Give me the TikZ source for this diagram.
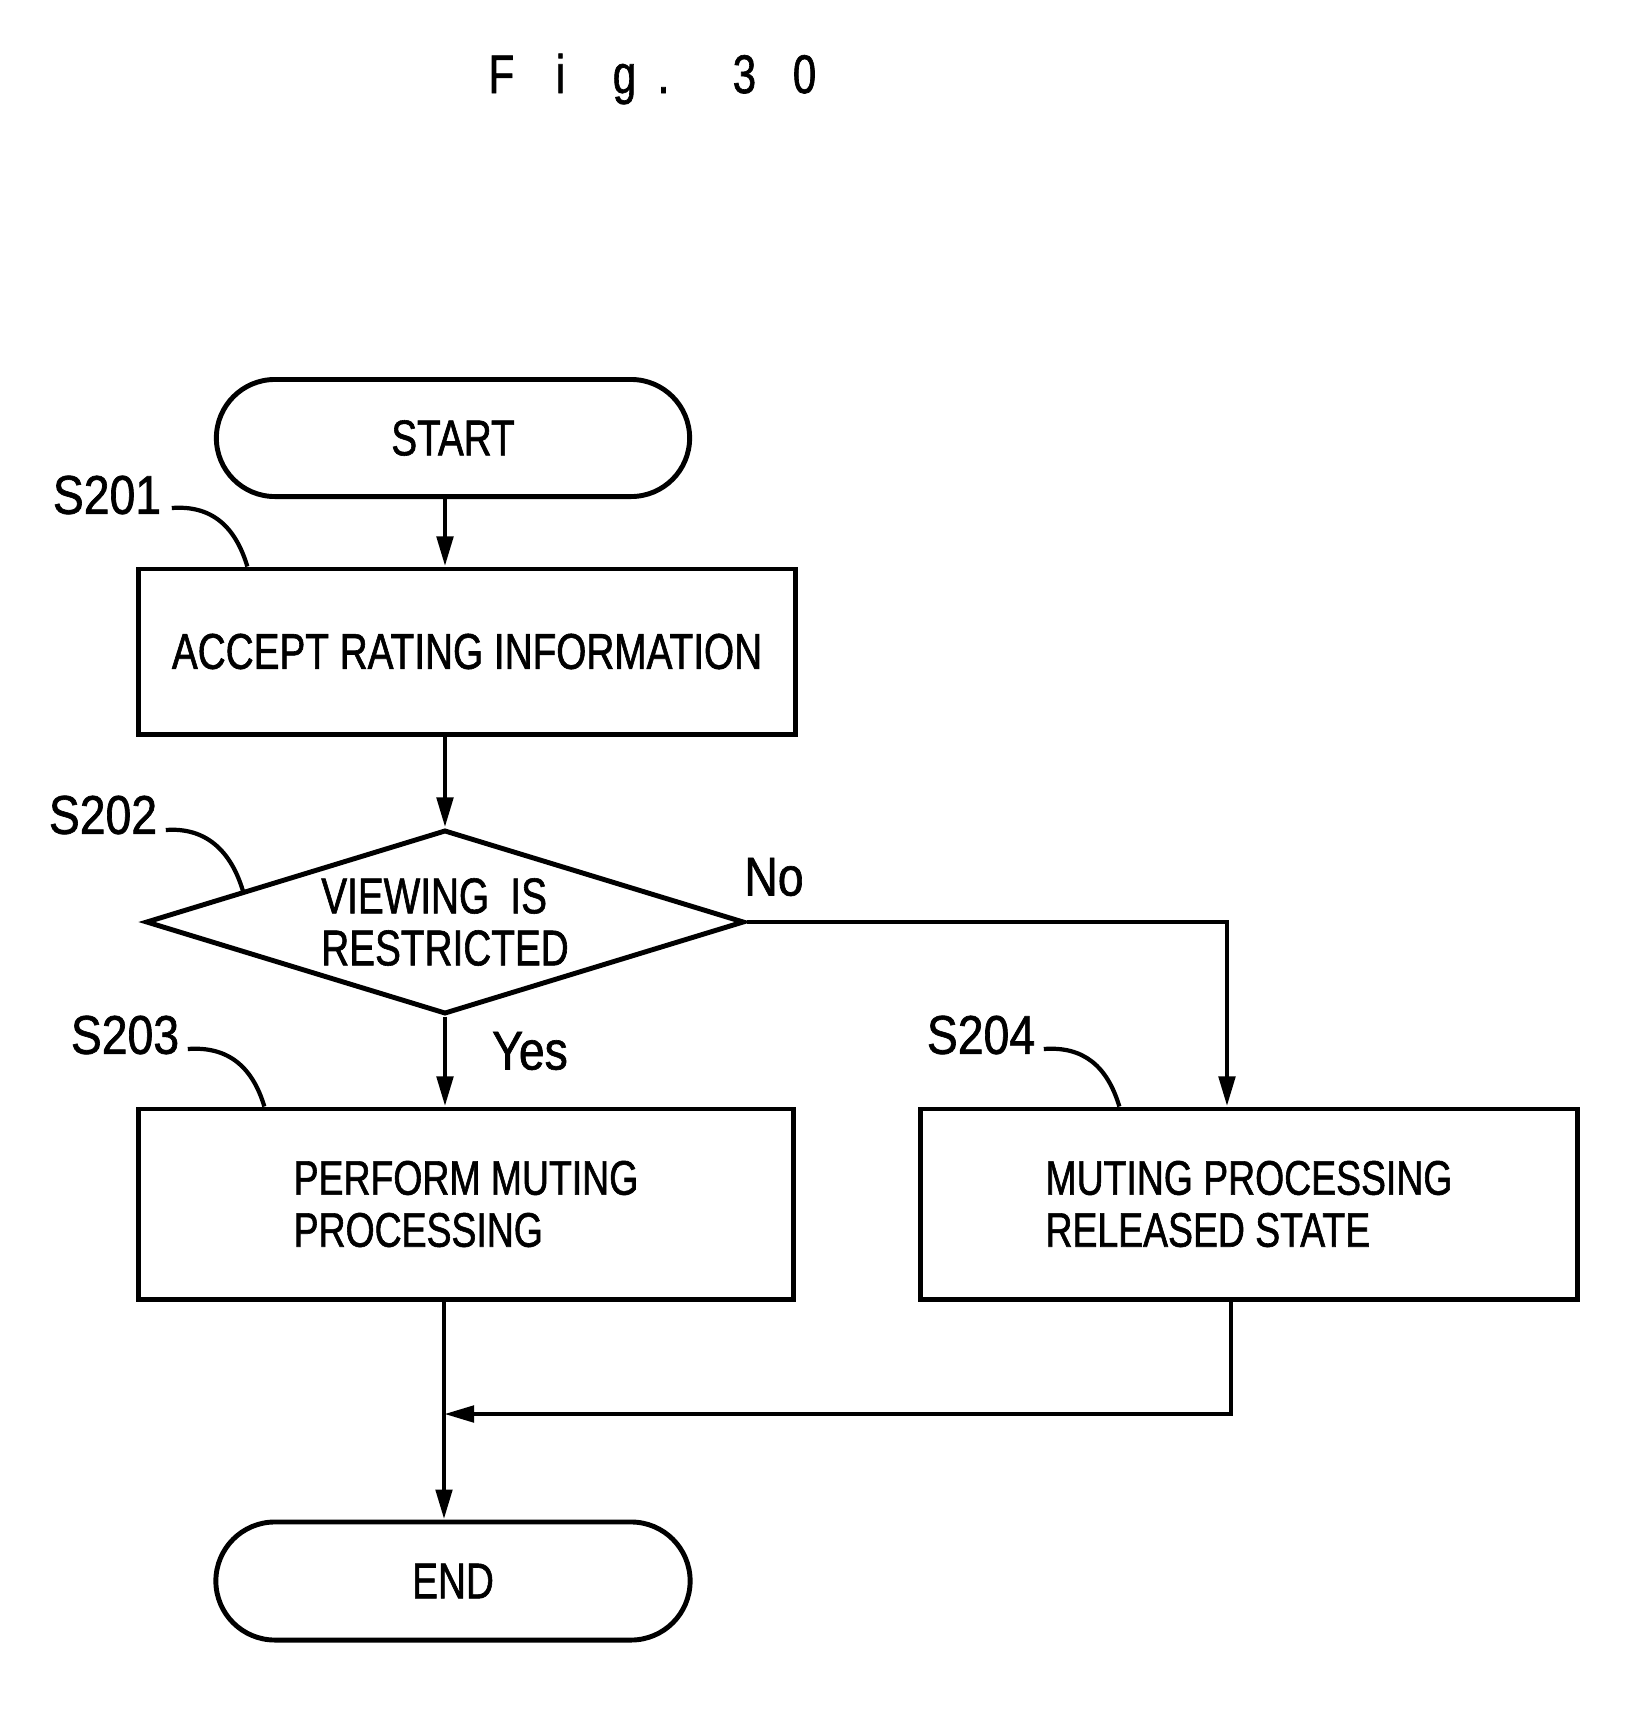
\documentclass[tikz,border=0pt]{standalone}
\usepackage{fontspec}
\setmainfont[FakeStretch=0.77,FakeBold=1.2]{Liberation Sans}
\newfontfamily\lblfont[FakeStretch=0.85,FakeBold=1.2]{Liberation Sans}
\usetikzlibrary{shapes.geometric,shapes.misc,arrows.meta,calc}
\tikzset{
  base/.style={draw, line width=1.4pt, font=\fontsize{14.3}{14.8}\selectfont, inner sep=0pt},
  terminal/.style={base, rounded rectangle, minimum width=4.73cm, minimum height=1.17cm},
  process/.style={base, rectangle, minimum height=1.9cm, align=left},
  decision/.style={base, diamond, aspect=3.25, minimum width=5.98cm, minimum height=1.84cm, align=left},
  arr/.style={line width=1.4pt, -{Triangle[length=3mm,width=1.6mm]}},
  lead/.style={line width=1.2pt},
  steplabel/.style={font=\lblfont\fontsize{15.5}{16}\selectfont, inner sep=0pt},
  branch/.style={font=\lblfont\fontsize{15.5}{16}\selectfont, inner sep=0pt}
}
\begin{document}
\begin{tikzpicture}[x=0.01cm,y=-0.01cm]
\useasboundingbox[fill=white] (0,0) rectangle (1632,1726);

\node[inner sep=0pt, font=\fontsize{15.5}{16}\selectfont] (title) at (653,79)
  {\makebox[0pt]{F}\hspace{16.8pt}\makebox[0pt]{i}\hspace{18.2pt}\makebox[0pt]{g}\hspace{11.1pt}\makebox[0pt]{.}\hspace{23pt}\makebox[0pt]{3}\hspace{17.1pt}\makebox[0pt]{0}};

\node[terminal] (start) at (453,438) {START};
\node[process, minimum width=6.56cm, minimum height=1.65cm] (b1) at (467,651.5) {ACCEPT RATING INFORMATION};
\node[decision] (d) at (445,922) {VIEWING\hspace{3pt} IS\\RESTRICTED};
\node[process, minimum width=6.54cm, font=\fontsize{13.8}{14.8}\selectfont] (b3) at (466,1204) {PERFORM MUTING\\PROCESSING};
\node[process, minimum width=6.56cm, font=\fontsize{13.8}{14.8}\selectfont] (b4) at (1249,1204) {MUTING PROCESSING\\RELEASED STATE};
\node[terminal, minimum width=4.74cm, minimum height=1.18cm] (end) at (453,1581) {END};

\node[steplabel] (s201) at (107,495) {S201};
\node[steplabel] (s202) at (103,815) {S202};
\node[steplabel] (s203) at (125,1035) {S203};
\node[steplabel] (s204) at (981,1035) {S204};
\node[branch] (no) at (774,877) {No};
\node[branch] (yes) at (530,1051) {Yes};

% leaders
\draw[lead] ($(s201.east)+(10,13)$) .. controls +(40,-3) and +(-12,-40) .. ($(b1.north west)+(111,0)$);
\draw[lead] ($(s202.east)+(8,15)$) .. controls +(40,-3) and +(-12,-40) .. ($(d.west)!0.33!(d.north)$);
\draw[lead] ($(s203.east)+(8,14)$) .. controls +(40,-3) and +(-12,-40) .. ($(b3.north west)+(128,0)$);
\draw[lead] ($(s204.east)+(8,14)$) .. controls +(40,-3) and +(-12,-40) .. ($(b4.north west)+(201,0)$);

% connectors
\coordinate (nocorner) at (1227,922);
\coordinate (merge) at (444,1414);
\coordinate (rcorner) at (1231,1414);
\draw[arr] (start.south -| d.north) -- (b1.north -| d.north);
\draw[arr] (b1.south -| d.north) -- (d.north);
\draw[arr] (d.south) -- (b3.north -| d.south);
\draw[arr] (d.east) -- (nocorner) -- (b4.north -| nocorner);
\draw[arr] (b3.south -| merge) -- (end.north -| merge);
\draw[arr] (b4.south -| rcorner) -- (rcorner) -- (merge);
\end{tikzpicture}
\end{document}
